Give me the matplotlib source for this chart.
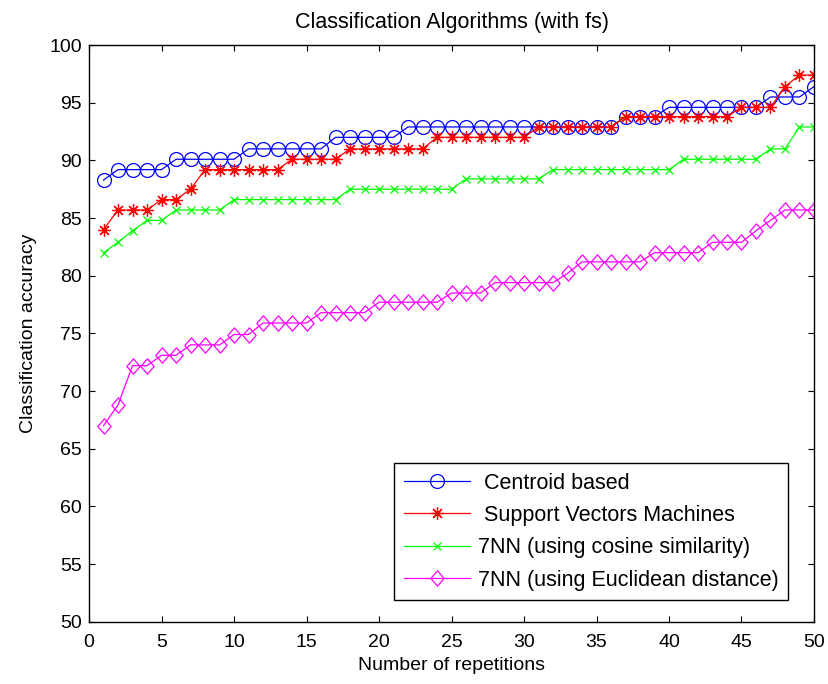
import numpy as np
import matplotlib
matplotlib.use('Agg')
import matplotlib.pyplot as plt
from matplotlib.path import Path

# Accuracy values per repetition
reps = list(range(1, 51))

centroid = [88.3, 89.2, 89.2, 89.2, 89.2, 90.1, 90.1, 90.1, 90.1, 90.1,
            91.0, 91.0, 91.0, 91.0, 91.0, 91.0, 92.0, 92.0, 92.0, 92.0,
            92.0, 92.9, 92.9, 92.9, 92.9, 92.9, 92.9, 92.9, 92.9, 92.9,
            92.9, 92.9, 92.9, 92.9, 92.9, 92.9, 93.8, 93.8, 93.8, 94.6,
            94.6, 94.6, 94.6, 94.6, 94.6, 94.6, 95.5, 95.5, 95.5, 96.4]

svm = [84.0, 85.7, 85.7, 85.7, 86.6, 86.6, 87.5, 89.2, 89.2, 89.2,
       89.2, 89.2, 89.2, 90.1, 90.1, 90.1, 90.1, 91.0, 91.0, 91.0,
       91.0, 91.0, 91.0, 92.0, 92.0, 92.0, 92.0, 92.0, 92.0, 92.0,
       92.9, 92.9, 92.9, 92.9, 92.9, 92.9, 93.8, 93.8, 93.8, 93.8,
       93.8, 93.8, 93.8, 93.8, 94.6, 94.6, 94.6, 96.4, 97.4, 97.4]

knn_cos = [82.0, 82.9, 83.9, 84.8, 84.8, 85.7, 85.7, 85.7, 85.7, 86.6,
           86.6, 86.6, 86.6, 86.6, 86.6, 86.6, 86.6, 87.5, 87.5, 87.5,
           87.5, 87.5, 87.5, 87.5, 87.5, 88.4, 88.4, 88.4, 88.4, 88.4,
           88.4, 89.2, 89.2, 89.2, 89.2, 89.2, 89.2, 89.2, 89.2, 89.2,
           90.1, 90.1, 90.1, 90.1, 90.1, 90.1, 91.0, 91.0, 92.9, 92.9]

knn_euc = [67.0, 68.8, 72.2, 72.2, 73.1, 73.1, 74.0, 74.0, 74.0, 74.9,
           74.9, 75.9, 75.9, 75.9, 75.9, 76.8, 76.8, 76.8, 76.8, 77.7,
           77.7, 77.7, 77.7, 77.7, 78.5, 78.5, 78.5, 79.4, 79.4, 79.4,
           79.4, 79.4, 80.2, 81.2, 81.2, 81.2, 81.2, 81.2, 82.0, 82.0,
           82.0, 82.0, 82.9, 82.9, 82.9, 83.9, 84.8, 85.7, 85.7, 85.7]

labels = [' Centroid based', ' Support Vectors Machines',
          '7NN (using cosine similarity)', '7NN (using Euclidean distance)']

plt.rcParams['font.family'] = ['Liberation Sans', 'DejaVu Sans']

# MATLAB-like diamond, a bit taller than wide
diamond = Path([(0, 1), (0.87, 0), (0, -1), (-0.87, 0), (0, 1)],
               [Path.MOVETO, Path.LINETO, Path.LINETO, Path.LINETO, Path.CLOSEPOLY])

fig = plt.figure(figsize=(8.29, 6.84), dpi=100)
ax = fig.add_axes([0.1074, 0.0911, 0.8745, 0.843])

lw = 0.9
ax.plot(reps, centroid, color='blue', lw=lw, marker='o', ms=10,
        mfc='none', mec='blue', mew=0.9, label=labels[0])
ax.plot(reps, svm, color='red', lw=lw, marker=(8, 2, 0), ms=9,
        mec='red', mew=0.9, label=labels[1])
ax.plot(reps, knn_cos, color='#00ff00', lw=lw, marker='x', ms=6,
        mec='#00ff00', mew=0.9, label=labels[2])
ax.plot(reps, knn_euc, color='magenta', lw=lw, marker=diamond, ms=11,
        mfc='none', mec='magenta', mew=0.9, label=labels[3])

ax.set_xlim(0, 50)
ax.set_ylim(50, 100)
ax.set_xticks(np.arange(0, 51, 5))
ax.set_yticks(np.arange(50, 101, 5))
ax.tick_params(direction='in', top=True, right=True, labelsize=14,
               length=4, width=0.8)
ax.tick_params(axis='y', pad=5)
ax.tick_params(axis='x', pad=9)
for s in ax.spines.values():
    s.set_linewidth(1.0)

ax.set_title('Classification Algorithms (with fs)', fontsize=15.5, pad=12.5)
ax.set_xlabel('Number of repetitions', fontsize=14, labelpad=4)
ax.set_ylabel('Classification accuracy', fontsize=14, labelpad=9)

leg = ax.legend(loc='lower right', bbox_to_anchor=(0.964, 0.0376),
                fontsize=15.5, handlelength=3.1, fancybox=False,
                edgecolor='black', framealpha=1, borderpad=0.43,
                labelspacing=0.53, handletextpad=0.35, borderaxespad=0)
leg.get_frame().set_linewidth(1.0)

fig.savefig('out.png', dpi=100)
